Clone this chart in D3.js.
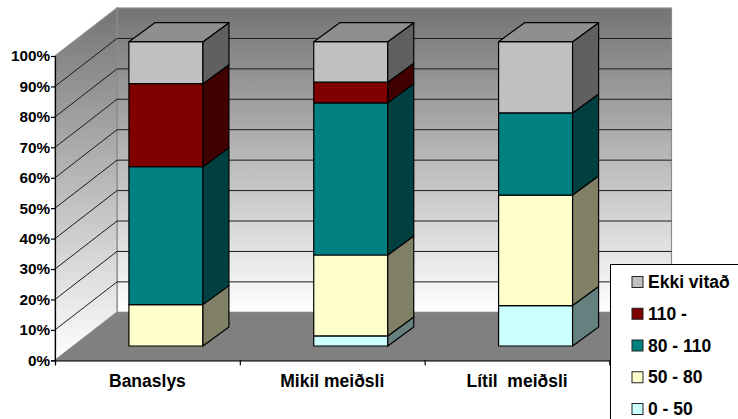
<!DOCTYPE html>
<html>
<head>
<meta charset="utf-8">
<script src="https://cdn.jsdelivr.net/npm/d3@7"></script>
<style>
  html, body { margin: 0; padding: 0; background: #fff; overflow: hidden; }
  text { font-family: "Liberation Sans", Arial, sans-serif; font-weight: bold; fill: #000; white-space: pre; }
</style>
</head>
<body>
<svg id="chart" width="738" height="419"></svg>
<script>
var categories = ['Banaslys', 'Mikil meiðsli', 'Lítil  meiðsli'];
var seriesNames = ['0 - 50', '50 - 80', '80 - 110', '110 -', 'Ekki vitað'];
var band0to50 = [0, 3.3, 13.3];
var band50to80 = [13.6, 26.6, 36.3];
var band80to110 = [45.3, 50, 27];
var band110up = [27.3, 6.8, 0];
var unknown = [13.8, 13.3, 23.4];
var seriesColors = ['#ccffff', '#ffffcc', '#008080', '#800000', '#c0c0c0'];
var yTicks = [0, 10, 20, 30, 40, 50, 60, 70, 80, 90, 100];

var rows = categories.map(function(c, i) {
	return {
		category: c,
		'0 - 50': band0to50[i],
		'50 - 80': band50to80[i],
		'80 - 110': band80to110[i],
		'110 -': band110up[i],
		'Ekki vitað': unknown[i]
	};
});

var svg = d3.select('#chart');

var plotLeft = 55, plotRight = 609.5, plotBottom = 360.3, plotTop = 56;
var depth = { x: 62, y: -48 };            // floor / wall depth
var barFront = { x: 18.5, y: -14.3 };     // where the front of a bar sits in that depth
var barDepth = { x: 26, y: -19 };
var barWidth = 74;

var x = d3.scaleBand().domain(categories).range([plotLeft, plotRight]);
var y = d3.scaleLinear().domain([0, 100]).range([plotBottom, plotTop]);
var color = d3.scaleOrdinal().domain(seriesNames).range(seriesColors);

var stacked = d3.stack().keys(seriesNames)(rows);

// wall gradient
var defs = svg.append('defs');
var wallGradient = defs.append('linearGradient').attr('id', 'wall')
	.attr('x1', 0).attr('y1', 0).attr('x2', 0).attr('y2', 1);
wallGradient.append('stop').attr('offset', '0%').attr('stop-color', '#747474');
wallGradient.append('stop').attr('offset', '100%').attr('stop-color', '#ffffff');

var path = d3.line();

// back wall
svg.append('rect')
	.attr('x', plotLeft + depth.x)
	.attr('y', plotTop + depth.y)
	.attr('width', plotRight - plotLeft)
	.attr('height', plotBottom - plotTop)
	.attr('fill', 'url(#wall)')
	.attr('stroke', '#8c8c8c')
	.attr('stroke-width', 1.2);

// side wall
svg.append('path')
	.attr('d', path([[plotLeft, plotTop], [plotLeft + depth.x, plotTop + depth.y], [plotLeft + depth.x, plotBottom + depth.y], [plotLeft, plotBottom]]) + 'Z')
	.attr('fill', 'url(#wall)')
	.attr('stroke', '#8c8c8c')
	.attr('stroke-width', 1.2);

// floor
svg.append('path')
	.attr('d', path([[plotLeft, plotBottom], [plotLeft + depth.x, plotBottom + depth.y], [plotRight + depth.x, plotBottom + depth.y], [plotRight, plotBottom]]) + 'Z')
	.attr('fill', '#808080');

// grid lines on the walls
var grid = svg.append('g').attr('fill', 'none').attr('stroke', '#1a1a1a').attr('stroke-width', 1);
yTicks.slice(1, -1).forEach(function(t) {
	grid.append('path').attr('d', path([
		[plotLeft, y(t)],
		[plotLeft + depth.x, y(t) + depth.y],
		[plotRight + depth.x, y(t) + depth.y]
	]));
});

// the sides of the bars are the same colour at half brightness
function sideColor(c) {
	var r = d3.rgb(c);
	return d3.rgb(r.r / 2, r.g / 2, r.b / 2).formatHex();
}

var bars = svg.append('g').attr('stroke', '#000').attr('stroke-width', 1.2).attr('stroke-linejoin', 'round');

categories.forEach(function(cat, ci) {
	var x0 = x(cat) + (x.bandwidth() - barWidth) / 2 + barFront.x;
	var x1 = x0 + barWidth;
	stacked.forEach(function(s) {
		var d = s[ci];
		if (d[1] - d[0] <= 0) return;
		var y0 = y(d[0]) + barFront.y;
		var y1 = y(d[1]) + barFront.y;
		bars.append('rect')
			.attr('x', x0).attr('y', y1)
			.attr('width', barWidth).attr('height', y0 - y1)
			.attr('fill', color(s.key));
		bars.append('path')
			.attr('d', path([[x1, y1], [x1 + barDepth.x, y1 + barDepth.y], [x1 + barDepth.x, y0 + barDepth.y], [x1, y0]]) + 'Z')
			.attr('fill', sideColor(color(s.key)));
	});
	// top of the stack
	var yt = y(100) + barFront.y;
	bars.append('path')
		.attr('d', path([[x0, yt], [x0 + barDepth.x, yt + barDepth.y], [x1 + barDepth.x, yt + barDepth.y], [x1, yt]]) + 'Z')
		.attr('fill', '#8f8f8f');
});

// axes
var yAxis = d3.axisLeft(y).tickValues(yTicks).tickSize(4).tickPadding(1).tickFormat(function(d) { return d + '%'; });
var gy = svg.append('g').attr('transform', 'translate(' + plotLeft + ',0)').call(yAxis);
gy.selectAll('text').attr('font-size', 15.3);
gy.selectAll('line, path').attr('stroke', '#000').attr('stroke-width', 1.2);

var xEdges = d3.scaleLinear().domain([0, categories.length]).range([plotLeft, plotRight]);
var gx = svg.append('g').attr('transform', 'translate(0,' + plotBottom + ')')
	.call(d3.axisBottom(xEdges).tickValues(d3.range(categories.length + 1)).tickSize(5).tickFormat(''));
gx.selectAll('line, path').attr('stroke', '#000').attr('stroke-width', 1.2);

var gl = svg.append('g').attr('transform', 'translate(0,' + plotBottom + ')')
	.call(d3.axisBottom(x).tickSize(0).tickPadding(14));
gl.select('.domain').remove();
gl.selectAll('text').attr('font-size', 17.5);

// legend
svg.append('rect')
	.attr('x', 610.5).attr('y', 264.5)
	.attr('width', 140).attr('height', 170)
	.attr('fill', '#fff').attr('stroke', '#000').attr('stroke-width', 1);

var legendOrder = seriesNames.slice().reverse();
var legendY = d3.scalePoint().domain(legendOrder).range([282, 409]);
var legend = svg.append('g').selectAll('g').data(legendOrder).enter().append('g')
	.attr('transform', function(d) { return 'translate(632,' + legendY(d) + ')'; });
legend.append('rect')
	.attr('x', 0).attr('y', -5.5).attr('width', 11).attr('height', 11)
	.attr('fill', function(d) { return color(d); })
	.attr('stroke', '#222').attr('stroke-width', 1);
legend.append('text')
	.attr('x', 16).attr('y', 6).attr('font-size', 17.5)
	.text(function(d) { return d; });
</script>
</body>
</html>
